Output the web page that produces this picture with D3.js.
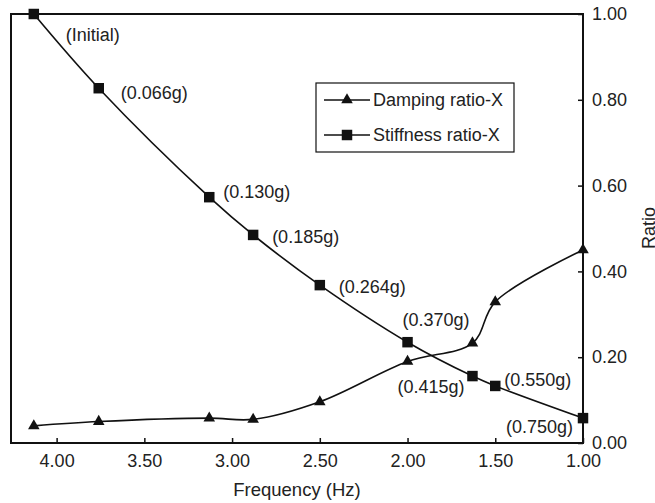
<!DOCTYPE html>
<html lang="en">
<head>
<meta charset="UTF-8">
<title>Damping and stiffness ratio vs frequency</title>
<script src="https://d3js.org/d3.v7.min.js"></script>
<style>
body { margin: 0; background: #fff; }
svg text { font-family: "Liberation Sans", Arial, Helvetica, sans-serif; fill: #222; }
.axis text { font-size: 18px; }
.axis line { stroke: #111; stroke-width: 1.5px; }
.series { fill: none; stroke: #111; stroke-width: 1.6px; }
.note { font-size: 18px; }
</style>
</head>
<body>
<svg width="655" height="503"></svg>
<script>

// frequencies (Hz) shared by both series
var freq = [4.13, 3.76, 3.13, 2.88, 2.50, 2.00, 1.63, 1.50, 1.00];
var damping = [0.040, 0.050, 0.058, 0.055, 0.096, 0.190, 0.233, 0.329, 0.450];
var stiffness = [1.000, 0.827, 0.573, 0.485, 0.368, 0.235, 0.156, 0.133, 0.058];
var pga = ["(Initial)", "(0.066g)", "(0.130g)", "(0.185g)", "(0.264g)", "(0.370g)", "(0.415g)", "(0.550g)", "(0.750g)"];
var xTicks = [4.0, 3.5, 3.0, 2.5, 2.0, 1.5, 1.0];
var yTicks = [0, 0.2, 0.4, 0.6, 0.8, 1.0];
var seriesNames = ["Damping ratio-X", "Stiffness ratio-X"];

// where each load label sits relative to its square marker
var labelPos = [
  {dx: 32, dy: 21, anchor: "start"},
  {dx: 22, dy: 4, anchor: "start"},
  {dx: 14, dy: -5, anchor: "start"},
  {dx: 19, dy: 2, anchor: "start"},
  {dx: 19, dy: 2, anchor: "start"},
  {dx: -5, dy: -22, anchor: "start"},
  {dx: -8, dy: 11, anchor: "end"},
  {dx: 9, dy: -6, anchor: "start"},
  {dx: -10, dy: 9, anchor: "end"}
];

var svg = d3.select("svg"),
    plotL = 11, plotR = 583, plotT = 14, plotB = 443;

var x = d3.scaleLinear().domain([4.26, 1.0]).range([plotL, plotR]);
var y = d3.scaleLinear().domain([0, 1]).range([plotB, plotT]);

// axes, ticks pointing inward
svg.append("g")
    .attr("class", "axis")
    .attr("transform", "translate(0," + plotB + ")")
    .call(d3.axisBottom(x).tickValues(xTicks).tickFormat(d3.format(".2f")).tickSize(-5).tickPadding(11))
    .call(function(g) { g.select(".domain").remove(); });

svg.append("g")
    .attr("class", "axis")
    .attr("transform", "translate(" + plotR + ",0)")
    .call(d3.axisRight(y).tickValues(yTicks).tickFormat(d3.format(".2f")).tickSize(-5).tickPadding(9))
    .call(function(g) { g.select(".domain").remove(); });

// frame
svg.append("rect")
    .attr("x", plotL).attr("y", plotT)
    .attr("width", plotR - plotL).attr("height", plotB - plotT)
    .attr("fill", "none").attr("stroke", "#111").attr("stroke-width", 2);

svg.append("text")
    .attr("x", 297)
    .attr("y", 496)
    .attr("text-anchor", "middle")
    .style("font-size", "18.5px")
    .text("Frequency (Hz)");

// y title sits at the very edge, partly cut like the original
svg.append("text")
    .attr("transform", "translate(655,228) rotate(-90)")
    .attr("text-anchor", "middle")
    .style("font-size", "18px")
    .text("Ratio");

var line = d3.line()
    .x(function(d) { return x(d[0]); })
    .y(function(d) { return y(d[1]); })
    .curve(d3.curveCatmullRom.alpha(0.5));

var dampPts = d3.zip(freq, damping),
    stiffPts = d3.zip(freq, stiffness);

svg.append("path").attr("class", "series").attr("d", line(dampPts));
svg.append("path").attr("class", "series").attr("d", line(stiffPts));

var tri = d3.symbol().type(d3.symbolTriangle).size(58),
    sq = d3.symbol().type(d3.symbolSquare).size(110);

svg.selectAll(".tri")
    .data(dampPts)
    .enter().append("path")
    .attr("class", "tri")
    .attr("d", tri)
    .attr("fill", "#111")
    .attr("transform", function(d) { return "translate(" + x(d[0]) + "," + y(d[1]) + ")"; });

svg.selectAll(".sq")
    .data(stiffPts)
    .enter().append("path")
    .attr("class", "sq")
    .attr("d", sq)
    .attr("fill", "#111")
    .attr("transform", function(d) { return "translate(" + x(d[0]) + "," + y(d[1]) + ")"; });

svg.selectAll(".note")
    .data(stiffPts)
    .enter().append("text")
    .attr("class", "note")
    .attr("x", function(d, i) { return x(d[0]) + labelPos[i].dx; })
    .attr("y", function(d, i) { return y(d[1]) + labelPos[i].dy; })
    .attr("dy", "0.35em")
    .attr("text-anchor", function(d, i) { return labelPos[i].anchor; })
    .text(function(d, i) { return pga[i]; });

// legend
var legend = svg.append("g");
legend.append("rect")
    .attr("x", 316).attr("y", 83).attr("width", 198).attr("height", 69)
    .attr("fill", "#fff").attr("stroke", "#111").attr("stroke-width", 1.2);

var entry = legend.selectAll(".entry")
    .data(seriesNames)
    .enter().append("g")
    .attr("transform", function(d, i) { return "translate(0," + (100 + i * 35) + ")"; });

entry.append("line")
    .attr("x1", 324).attr("x2", 370)
    .attr("stroke", "#111").attr("stroke-width", 1.6);

entry.append("path")
    .attr("d", function(d, i) { return i === 0 ? tri() : sq(); })
    .attr("fill", "#111")
    .attr("transform", "translate(347,0)");

entry.append("text")
    .attr("x", 373)
    .attr("dy", "0.35em")
    .style("font-size", "18px")
    .text(function(d) { return d; });

</script>
</body>
</html>
